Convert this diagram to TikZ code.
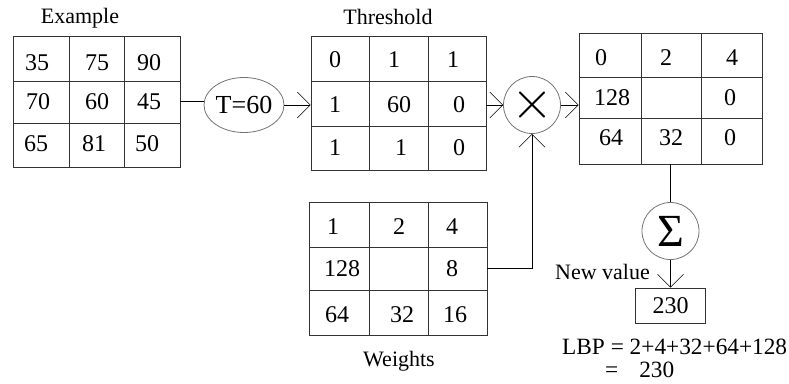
\documentclass[tikz,border=0pt]{standalone}
\usepackage{fontspec}
\setmainfont{Liberation Serif}[Ligatures=TeX]
\usetikzlibrary{arrows.meta,shapes.geometric}
\begin{document}
\begin{tikzpicture}[x=1pt,y=-1pt,
  grid/.style={draw=black!80, line width=0.8pt, inner sep=0pt},
  gl/.style={draw=black!80, line width=0.8pt},
  op/.style={draw=black!55, line width=0.8pt, circle, inner sep=0pt, minimum size=57pt},
  num/.style={font=\fontsize{24}{24}\selectfont, inner sep=0pt},
  lab/.style={font=\fontsize{22}{22}\selectfont, inner sep=0pt, anchor=base},
  conn/.style={line width=0.8pt, black},
  arr/.style={conn, -{Straight Barb[length=13pt, width=26pt, line width=0.5pt]}}
]
\useasboundingbox (0,0) rectangle (789,383);

% grids
\node[grid, minimum width=167pt, minimum height=131pt] (ex) at (96.5,101.5) {};
\draw[gl] (69,36) -- (69,167) (124,36) -- (124,167) (13,81) -- (180,81) (13,123) -- (180,123);
\node[grid, minimum width=175pt, minimum height=134pt] (th) at (398.5,103) {};
\draw[gl] (369,36) -- (369,170) (428,36) -- (428,170) (311,81) -- (486,81) (311,126) -- (486,126);
\node[grid, minimum width=183pt, minimum height=131pt] (out) at (670.5,98.5) {};
\draw[gl] (641,33) -- (641,164) (701,33) -- (701,164) (579,77) -- (762,77) (579,118) -- (762,118);
\node[grid, minimum width=178pt, minimum height=133pt] (wt) at (398,268.5) {};
\draw[gl] (369,202) -- (369,335) (428,202) -- (428,335) (309,247) -- (487,247) (309,290) -- (487,290);

% titles
\node[lab] (tex) at (80,23) {Example};
\node[lab] (tth) at (388,24) {Threshold};
\node[lab] (twt) at (399,366) {Weights};
\node[lab] (tnv) at (602.5,279) {New value};

% example numbers
\node[num] (e11) at (37,63) {35};
\node[num] (e12) at (97,63) {75};
\node[num] (e13) at (149,63) {90};
\node[num] (e21) at (38,102) {70};
\node[num] (e22) at (97,102) {60};
\node[num] (e23) at (149,102) {45};
\node[num] (e31) at (36,144) {65};
\node[num] (e32) at (94,144) {81};
\node[num] (e33) at (147,144) {50};

% threshold numbers
\node[num] (t11) at (335,60) {0};
\node[num] (t12) at (394,60) {1};
\node[num] (t13) at (453,60) {1};
\node[num] (t21) at (335,105) {1};
\node[num] (t22) at (399,105) {60};
\node[num] (t23) at (459,105) {0};
\node[num] (t31) at (335,148) {1};
\node[num] (t32) at (401,148) {1};
\node[num] (t33) at (459,148) {0};

% output numbers
\node[num] (o11) at (601,58) {0};
\node[num] (o12) at (666,58) {2};
\node[num] (o13) at (732,58) {4};
\node[num] (o21) at (612,98) {128};
\node[num] (o23) at (730,98) {0};
\node[num] (o31) at (611,138) {64};
\node[num] (o32) at (671,138) {32};
\node[num] (o33) at (730,138) {0};

% weights numbers
\node[num] (w11) at (333,227) {1};
\node[num] (w12) at (399,227) {2};
\node[num] (w13) at (452,227) {4};
\node[num] (w21) at (342,269) {128};
\node[num] (w23) at (452,269) {8};
\node[num] (w31) at (337,315) {64};
\node[num] (w32) at (402,315) {32};
\node[num] (w33) at (455,315) {16};

% operators
\node[draw=black!55, line width=0.8pt, ellipse, inner sep=0pt, minimum width=58pt, minimum height=55pt,
      font=\fontsize{26}{26}\selectfont] (T) at (244,105) {T=60};
\node[op] (X) at (532,105) {\scalebox{5.4}{$\times$}};
\node[op, font=\fontsize{46}{46}\selectfont] (S) at (670.5,231) {Σ};
\node[draw=black!80, line width=0.8pt, minimum width=70pt, minimum height=35pt, inner sep=0pt,
      font=\fontsize{24}{24}\selectfont] (v) at (670.5,305.5) {230};

% connectors
\draw[conn] (ex.east) -- (ex.east -| T.west);
\draw[arr] (T.east) -- (T.east -| th.west);
\draw[arr] (X.west -| th.east) -- (X.west);
\draw[arr] (X.east) -- (X.east -| out.west);
\draw[arr] (wt.east) -| (X.south);
\draw[conn] (out.south) -- (S.north);
\draw[arr] (S.south) -- (v.north);

% LBP
\node[inner sep=0pt, anchor=base west, font=\fontsize{23.3}{23.3}\selectfont] (lbp1) at (562,354) {LBP = 2+4+32+64+128};
\node[inner sep=0pt, anchor=base west, font=\fontsize{23.3}{23.3}\selectfont] (lbp2) at (605,377) {=\hspace{21pt}230};
\end{tikzpicture}
\end{document}
